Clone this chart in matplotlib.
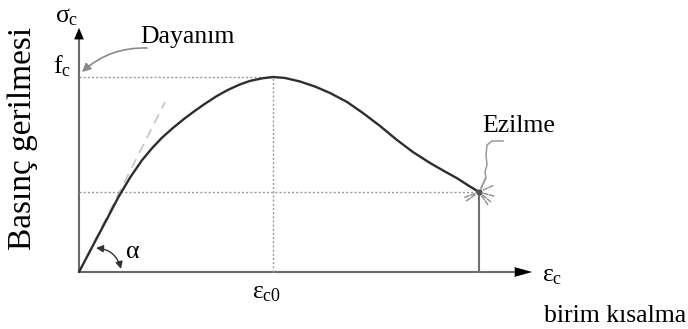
"""
Beton basinc gerilmesi - birim kisalma egrisi (sigma_c - epsilon_c).
"""

import numpy as np
import matplotlib.pyplot as plt
from matplotlib.patches import FancyArrowPatch

plt.rcParams['font.family'] = 'serif'
plt.rcParams['font.serif'] = ['Liberation Serif', 'Times New Roman', 'DejaVu Serif']
plt.rcParams['mathtext.fontset'] = 'custom'
plt.rcParams['mathtext.rm'] = 'Liberation Serif'
plt.rcParams['mathtext.it'] = 'Liberation Serif'

# strain in permille, stress as sigma_c / f_c
strain = [0.0, 0.072, 0.144, 0.216, 0.299, 0.402, 0.526, 0.649, 0.753, 0.856,
          0.969, 1.093, 1.196, 1.299, 1.423, 1.536, 1.660, 1.763, 1.887, 2.0,
          2.124, 2.278, 2.433, 2.588, 2.763, 2.928, 3.103, 3.278, 3.443, 3.619,
          3.773, 3.897, 4.010, 4.124]
stress = [0.0, 0.068, 0.136, 0.204, 0.282, 0.380, 0.484, 0.573, 0.635, 0.689,
          0.739, 0.789, 0.827, 0.863, 0.903, 0.934, 0.962, 0.980, 0.993, 1.0,
          0.995, 0.977, 0.951, 0.918, 0.872, 0.815, 0.749, 0.677, 0.615, 0.559,
          0.515, 0.481, 0.445, 0.410]

EPS_C0 = 2.0     # strain at peak stress
EPS_CU = 4.124   # crushing strain
SIG_CU = 0.410   # stress at crushing
TANGENT = [0.887, 0.872]   # end of initial tangent

# pixel layout: origin of the diagram and scale
W, H = 688, 329
X0, Y0 = 79, 272
SX, SY = 97.0, 195.0


def px(x, y):
    # figure pixel (from top-left) -> data coords
    return (x - X0) / SX, (Y0 - y) / SY


fig = plt.figure(figsize=(W / 100, H / 100), dpi=100)
ax = fig.add_axes([0, 0, 1, 1])
ax.set_xlim(-X0 / SX, (W - X0) / SX)
ax.set_ylim(-(H - Y0) / SY, Y0 / SY)
ax.axis('off')

# axes with arrows
x_tip = px(535, 0)[0]
y_tip = px(0, 25)[1]
ax.plot([0, x_tip - 0.1], [0, 0], color='#6a6a6a', lw=1.5, solid_capstyle='butt')
ax.plot([0, 0], [0, y_tip - 0.04], color='#6a6a6a', lw=1.5, solid_capstyle='butt')
ax.annotate('', xy=(x_tip, 0), xytext=(x_tip - 0.3, 0),
            arrowprops=dict(arrowstyle='-|>,head_length=0.9,head_width=0.25',
                            color='black', lw=0, mutation_scale=14))
ax.annotate('', xy=(0, y_tip), xytext=(0, y_tip - 0.15),
            arrowprops=dict(arrowstyle='-|>,head_length=0.6,head_width=0.25',
                            color='black', lw=0, mutation_scale=14))

# reference lines
dot = dict(color='#9a9a9a', lw=1.0, linestyle=(0, (1.5, 1.5)))
ax.plot([0, EPS_C0], [1.0, 1.0], **dot)
ax.plot([EPS_C0, EPS_C0], [0, 1.0], **dot)
ax.plot([0, EPS_CU], [SIG_CU, SIG_CU], **dot)
ax.plot([EPS_CU, EPS_CU], [0, SIG_CU], color='#707070', lw=1.5)

# initial tangent
ax.plot([0, TANGENT[0]], [0, TANGENT[1]], color='#c4c4c4', lw=1.2,
        linestyle=(0, (6, 4)), zorder=1)

# stress-strain curve
ax.plot(strain, stress, color='#2e2e2e', lw=1.7, zorder=3,
        solid_joinstyle='round', solid_capstyle='round')

# crushing point marker with rays
cx, cy = EPS_CU, SIG_CU
ax.plot([cx], [cy], 'o', color='#555555', ms=3.5, zorder=4)
for ang in [25, 65, 150, 200, 215, 305, 320, 345]:
    a = np.radians(ang)
    r = np.array([5, 9, 11, 15])
    xs = cx + r * np.cos(a) / SX
    ys = cy + r * np.sin(a) / SY
    ax.plot(xs[:2], ys[:2], color='#8a8a8a', lw=1.0)
    ax.plot(xs[2:], ys[2:], color='#8a8a8a', lw=1.0)

# alpha arc
arc = FancyArrowPatch(px(96, 248), px(121, 269), connectionstyle='arc3,rad=-0.35',
                      arrowstyle='<|-|>,head_length=0.6,head_width=0.3',
                      mutation_scale=7, color='#333333', lw=1.0,
                      shrinkA=0, shrinkB=0)
ax.add_patch(arc)

# leader lines
lead = FancyArrowPatch(px(147, 48), px(82, 72), connectionstyle='arc3,rad=0.2',
                       arrowstyle='-|>,head_length=0.5,head_width=0.25',
                       mutation_scale=10, color='#8a8a8a', lw=1.2,
                       shrinkA=0, shrinkB=0)
ax.add_patch(lead)
ez = np.array([(503, 141), (492, 141), (487, 145), (486, 155), (487, 165),
               (485, 172), (486, 178), (483, 184), (481, 189)])
ez_x, ez_y = px(ez[:, 0], ez[:, 1])
ax.plot(ez_x, ez_y, color='#9a9a9a', lw=1.1)

# labels
fs = 18.5
txt = dict(fontsize=fs, ha='left', va='baseline', color='black')
ax.text(*px(140, 43), 'Dayanım', **txt)
ax.text(*px(482, 132), 'Ezilme', **txt)
ax.text(*px(686, 322), 'birim kısalma', fontsize=fs, ha='right', va='baseline')
ax.text(*px(55, 22), r'$σ_{c}$', **txt)
ax.text(*px(53, 73), r'$f_{c}$', **txt)
ax.text(*px(252, 298), r'$ε_{c0}$', **txt)
ax.text(*px(542, 281), r'$ε_{c}$', **txt)
ax.text(*px(125, 258), r'$α$', **txt)
ax.text(*px(23, 138), 'Basınç gerilmesi', fontsize=fs + 5.5, rotation=90,
        ha='center', va='center')

plt.savefig('out.png', dpi=100)
